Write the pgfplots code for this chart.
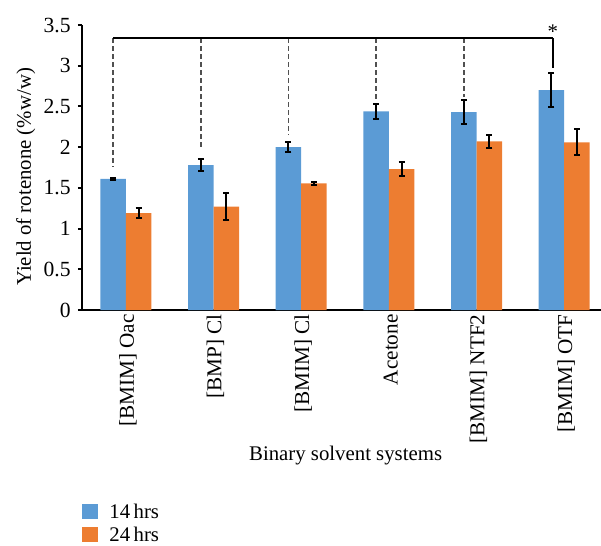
\documentclass[border=0pt]{standalone}
\usepackage{fontspec}
\setmainfont{Liberation Serif}
\usepackage{pgfplots}
\pgfplotsset{compat=1.18}
\definecolor{cblue}{HTML}{5B9BD5}
\definecolor{corange}{HTML}{ED7D31}
\definecolor{dgray}{HTML}{505050}
\begin{document}
\begin{tikzpicture}
\useasboundingbox (-41pt,-118pt) rectangle (259.5pt,155pt);
\begin{axis}[
  at={(0,0)}, anchor=south west,
  scale only axis, width=259.5pt, height=142.5pt,
  xmin=-0.5, xmax=5.42, ymin=0, ymax=3.5,
  clip=false,
  ybar=0pt, bar width=12.75pt,
  axis x line*=bottom, axis y line*=left,
  axis line style={line width=1pt, black},
  xtick={0,1,2,3,4,5},
  xticklabels={{[BMIM] Oac},{[BMP] Cl},{[BMIM] Cl},{Acetone},{[BMIM] NTF2},{[BMIM] OTF}},
  x tick style={draw=none},
  xticklabel style={rotate=90, anchor=east, inner sep=0pt, yshift=-1pt, font=\fontsize{10.6}{12}\selectfont},
  ytick={0,0.5,1,1.5,2,2.5,3,3.5},
  yticklabels={0,0.5,1,1.5,2,2.5,3,3.5},
  y tick style={line width=1pt, black},
  tick align=outside, major tick length=2pt,
  yticklabel style={inner sep=0pt, xshift=-3.5pt, font=\fontsize{10.8}{12}\selectfont},
  /pgf/number format/assume math mode=true,
  xlabel={Binary solvent systems},
  xlabel style={at={(axis description cs:0.508,-0.528)}, anchor=base, inner sep=0pt, font=\fontsize{10.4}{12}\selectfont},
  ylabel={Yield of rotenone (\%w/w)},
  ylabel style={at={(axis description cs:-0.0983,0.467)}, anchor=base, inner sep=0pt, font=\fontsize{10.4}{12}\selectfont},
  legend image code/.code={\fill[#1] (0pt,-3.65pt) rectangle (8pt,3.85pt);},
  legend cell align=left,
  legend style={at={(axis description cs:0,-0.679)}, anchor=north west, draw=none, fill=none,
    inner sep=0pt, row sep=4.1pt, font=\fontsize{10.4}{12}\selectfont,
    nodes={inner sep=0pt, text height=7pt, text depth=0pt},
    /tikz/every odd column/.append style={column sep=5.5pt}},
  error bars/error bar style={line width=1pt, black},
  error bars/error mark options={rotate=90, mark size=1.5pt, line width=1pt, black},
]
\addplot[fill=cblue, draw=none, error bars/.cd, y dir=both, y explicit] coordinates {
  (0,1.61) +- (0,0.01)
  (1,1.78) +- (0,0.075)
  (2,2.00) +- (0,0.06)
  (3,2.44) +- (0,0.09)
  (4,2.43) +- (0,0.145)
  (5,2.70) +- (0,0.21)
};
\addplot[fill=corange, draw=none, error bars/.cd, y dir=both, y explicit] coordinates {
  (0,1.19) +- (0,0.06)
  (1,1.27) +- (0,0.165)
  (2,1.555) +- (0,0.02)
  (3,1.73) +- (0,0.085)
  (4,2.07) +- (0,0.075)
  (5,2.06) +- (0,0.16)
};
\legend{14\,hrs, 24\,hrs}
\draw[dgray, line width=0.9pt, dash pattern=on 2.5pt off 1.5pt] (axis cs:-0.1455,3.34) -- (axis cs:-0.1455,1.76);
\draw[dgray, line width=0.9pt, dash pattern=on 2.5pt off 1.5pt] (axis cs:0.8545,3.34) -- (axis cs:0.8545,1.97);
\draw[dgray, line width=0.9pt, dash pattern=on 2.5pt off 1.5pt] (axis cs:1.8545,3.34) -- (axis cs:1.8545,2.15);
\draw[dgray, line width=0.9pt, dash pattern=on 2.5pt off 1.5pt] (axis cs:2.8545,3.34) -- (axis cs:2.8545,2.58);
\draw[dgray, line width=0.9pt, dash pattern=on 2.5pt off 1.5pt] (axis cs:3.8545,3.34) -- (axis cs:3.8545,2.62);
\draw[black, line width=0.7pt] (axis cs:-0.1455,3.34) -- (axis cs:4.87,3.34);
\draw[black, line width=1pt] (axis cs:4.87,3.34) -- (axis cs:4.87,2.97);
\node[anchor=base, inner sep=0pt, font=\fontsize{10.4}{12}\selectfont] at (axis cs:4.87,3.34) {*};
\end{axis}
\end{tikzpicture}
\end{document}
